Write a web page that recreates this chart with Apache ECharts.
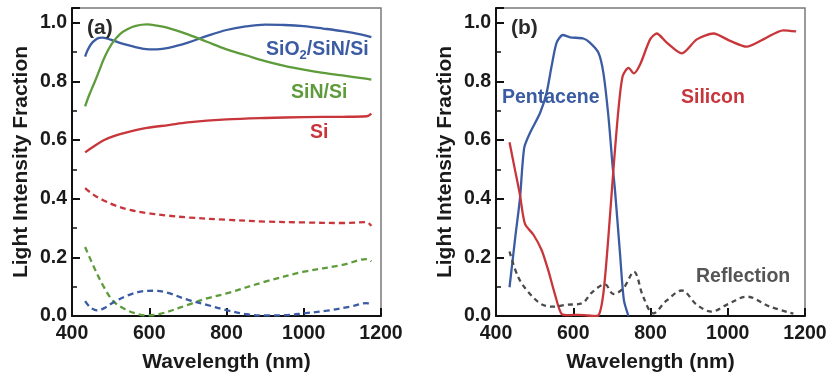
<!DOCTYPE html>
<html>
<head>
<meta charset="utf-8">
<script src="https://cdn.jsdelivr.net/npm/echarts@6/dist/echarts.min.js"></script>
<style>
html,body{margin:0;padding:0;background:#fff;}
#c{width:830px;height:378px;}
</style>
</head>
<body>
<div id="c"></div>
<script>
// ---------- Panel (a) data ----------
const aSio2Wl  = [434,440,450,460,470,480,490,500,520,540,560,580,600,620,650,700,750,800,850,900,950,1000,1050,1100,1150,1175];
const aSio2Abs = [0.884,0.905,0.928,0.941,0.948,0.949,0.946,0.942,0.933,0.925,0.918,0.912,0.909,0.909,0.914,0.932,0.955,0.975,0.987,0.993,0.992,0.988,0.980,0.971,0.959,0.951];

const aSinWl   = [434,445,456,470,482,495,508,525,542,565,594,620,646,700,749,800,850,900,950,1000,1050,1100,1150,1175];
const aSinAbs  = [0.715,0.755,0.789,0.835,0.875,0.91,0.937,0.962,0.977,0.989,0.994,0.990,0.983,0.960,0.935,0.909,0.889,0.869,0.853,0.840,0.829,0.820,0.811,0.806];

const aSiWl    = [434,456,482,508,542,594,650,700,800,900,1000,1100,1163,1175];
const aSiAbs   = [0.558,0.578,0.599,0.613,0.626,0.641,0.651,0.660,0.670,0.675,0.678,0.679,0.681,0.690];

const aSiRefWl  = [434,456,482,508,542,594,650,700,800,900,1000,1100,1163,1175];
const aSiRef    = [0.436,0.413,0.394,0.379,0.364,0.351,0.342,0.336,0.328,0.322,0.319,0.317,0.320,0.307];

const aSinRefWl = [434,456,482,508,542,572,594,628,700,749,800,900,1000,1100,1163,1175];
const aSinRef   = [0.235,0.169,0.100,0.049,0.020,0.006,0.002,0.007,0.038,0.060,0.077,0.117,0.151,0.174,0.194,0.186];

const aSio2RefWl = [434,447,465,482,508,542,577,611,646,700,749,800,852,900,956,1000,1060,1120,1163,1175];
const aSio2Ref   = [0.051,0.030,0.019,0.026,0.047,0.069,0.083,0.086,0.080,0.055,0.038,0.020,0.006,0.002,0.003,0.009,0.018,0.032,0.044,0.038];

// ---------- Panel (b) data ----------
const bPentWl  = [435,450,462,473,488,514,531,544,557,573,592,626,643,665,678,691,702,708,721,731,743];
const bPent    = [0.098,0.27,0.40,0.573,0.624,0.692,0.761,0.852,0.932,0.958,0.950,0.946,0.932,0.898,0.829,0.681,0.510,0.430,0.214,0.055,0.0];

const bSiWl    = [435,449,462,475,497,518,535,553,570,590,610,630,650,665,678,691,704,717,728,743,757,773,799,816,842,881,920,963,1006,1049,1092,1144,1177];
const bSi      = [0.592,0.499,0.413,0.314,0.277,0.225,0.157,0.072,0.007,0.003,0.004,0.003,0.0,0.002,0.077,0.270,0.499,0.704,0.818,0.846,0.827,0.857,0.943,0.963,0.932,0.895,0.943,0.963,0.938,0.918,0.943,0.974,0.970];

const bRefWl   = [435,457,483,518,548,582,622,648,682,704,730,757,781,807,842,881,920,958,997,1049,1109,1170];
const bRef     = [0.220,0.134,0.083,0.040,0.032,0.038,0.043,0.080,0.108,0.075,0.095,0.151,0.066,0.009,0.053,0.087,0.038,0.015,0.038,0.066,0.032,0.008];

// ---------- Axes ticks ----------
const xMin = 400, xMax = 1200, xStep = 200;
const yMin = 0, yMax = 1.05, yStep = 0.2;

const BLUE = '#3b5ca3', GREEN = '#5e9b3b', RED = '#c8363b', GRAY = '#4a4a4a';
const FONT = 'Liberation Sans, Arial, Helvetica, sans-serif';

function pairs(xs, ys){ return xs.map((x,i)=>[x, ys[i]]); }

function xAxisCfg(idx){
  return {
    gridIndex: idx, type:'value', min:xMin, max:xMax, interval:xStep,
    name:'Wavelength (nm)', nameLocation:'middle', nameGap:36,
    nameTextStyle:{fontFamily:FONT, fontWeight:'bold', fontSize:21, color:'#1a1a1a'},
    axisLine:{show:true, onZero:false, lineStyle:{color:'#111', width:2}},
    axisTick:{show:true, inside:true, length:8, lineStyle:{color:'#111', width:2}},
    minorTick:{show:false},
    axisLabel:{fontFamily:FONT, fontWeight:'bold', fontSize:19.5, color:'#1a1a1a', margin:8,
      formatter:v => String(v)},
    splitLine:{show:false}
  };
}
function yAxisCfg(idx){
  return {
    gridIndex: idx, type:'value', min:yMin, max:yMax, interval:yStep,
    name:'Light Intensity Fraction', nameLocation:'middle', nameGap:40,
    nameTextStyle:{fontFamily:FONT, fontWeight:'bold', fontSize:21, color:'#1a1a1a'},
    axisLine:{show:true, onZero:false, lineStyle:{color:'#111', width:2}},
    axisTick:{show:true, inside:true, length:8, lineStyle:{color:'#111', width:2}},
    minorTick:{show:true, splitNumber:2, length:5, lineStyle:{color:'#111', width:1.5}},
    axisLabel:{fontFamily:FONT, fontWeight:'bold', fontSize:19.5, color:'#1a1a1a', margin:5,
      formatter:v => (Math.abs(v/yStep - Math.round(v/yStep)) < 1e-6) ? v.toFixed(1) : ''},
    splitLine:{show:false}
  };
}
function line(name, xi, xs, ys, color, dashed){
  return {
    name, type:'line', xAxisIndex:xi, yAxisIndex:xi, data:pairs(xs,ys),
    smooth:0.35, symbol:'none', clip:true,
    lineStyle:{color, width:2.3, type: dashed ? [6,4] : 'solid'}
  };
}

const txt = (x,y,text,color,size,extra) => Object.assign({
  type:'text', x, y, z:100,
  style:{text, fill:color, font:'bold '+size+'px '+FONT,
         textAlign:'left', textVerticalAlign:'middle', align:'left', verticalAlign:'middle'}
}, extra||{});

const chart = echarts.init(document.getElementById('c'), null, {renderer:'canvas'});
chart.setOption({
  animation:false,
  backgroundColor:'#fff',
  grid:[
    {left:72, right:449, top:8, bottom:62, show:true, borderColor:'#7a7a7a', borderWidth:1.5, backgroundColor:'transparent'},
    {left:496, right:25, top:8, bottom:62, show:true, borderColor:'#7a7a7a', borderWidth:1.5, backgroundColor:'transparent'}
  ],
  xAxis:[xAxisCfg(0), xAxisCfg(1)],
  yAxis:[yAxisCfg(0), yAxisCfg(1)],
  series:[
    line('SiO2/SiN/Si', 0, aSio2Wl, aSio2Abs, BLUE, false),
    line('SiN/Si', 0, aSinWl, aSinAbs, GREEN, false),
    line('Si', 0, aSiWl, aSiAbs, RED, false),
    line('Si ref', 0, aSiRefWl, aSiRef, RED, true),
    line('SiN ref', 0, aSinRefWl, aSinRef, GREEN, true),
    line('SiO2 ref', 0, aSio2RefWl, aSio2Ref, BLUE, true),
    Object.assign(line('Pentacene', 1, bPentWl, bPent, BLUE, false), {smooth:0.25}),
    Object.assign(line('Silicon', 1, bSiWl, bSi, RED, false), {smooth:0.25}),
    Object.assign(line('Reflection', 1, bRefWl, bRef, GRAY, true), {smooth:0.35, lineStyle:{color:GRAY, width:2.3, type:[5,4]}})
  ],
  graphic:[
    txt(87, 28, '(a)', '#2a2a2a', 21),
    {type:'text', x:266, y:50, z:100,
     style:{text:'{m|SiO}{s|2}{m|/SiN/Si}', textAlign:'left', textVerticalAlign:'middle', align:'left', verticalAlign:'middle',
       rich:{
         m:{fill:BLUE, color:BLUE, font:'bold 19.5px '+FONT, fontWeight:'bold', fontSize:19.5, fontFamily:FONT, lineHeight:24, verticalAlign:'middle'},
         s:{fill:BLUE, color:BLUE, font:'bold 13px '+FONT, fontWeight:'bold', fontSize:13, fontFamily:FONT, lineHeight:24, verticalAlign:'bottom', padding:[0,0,0,0]}
       }}},
    txt(291, 93, 'SiN/Si', GREEN, 19.5),
    txt(310, 133, 'Si', RED, 19.5),
    txt(511, 28, '(b)', '#2a2a2a', 21),
    txt(502, 98, 'Pentacene', BLUE, 19.5),
    txt(681, 98, 'Silicon', RED, 19.5),
    txt(696, 277, 'Reflection', '#555555', 19.5)
  ]
});
</script>
</body>
</html>
